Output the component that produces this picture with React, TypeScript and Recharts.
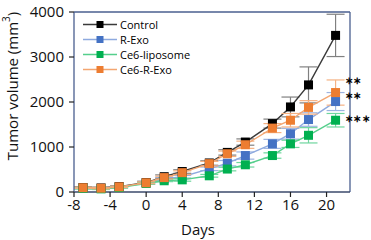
import React from "react";
import {
  ComposedChart,
  Line,
  XAxis,
  YAxis,
  ErrorBar,
  ReferenceLine,
  LabelList,
  Label,
} from "recharts";

const days = [-7, -5, -3, 0, 2, 4, 7, 9, 11, 14, 16, 18, 21];
const control = [100, 90, 120, 210, 340, 455, 645, 880, 1110, 1520, 1890, 2380, 3480];
const controlErr = [20, 20, 20, 30, 40, 40, 50, 60, 70, 100, 220, 400, 470];
const rExo = [90, 80, 110, 200, 290, 340, 515, 640, 810, 1070, 1295, 1610, 2010];
const rExoErr = [15, 15, 15, 20, 30, 30, 40, 60, 80, 100, 120, 150, 200];
const ce6Lipo = [80, 70, 100, 190, 250, 270, 360, 510, 605, 810, 1070, 1260, 1595];
const ce6LipoErr = [15, 15, 15, 20, 20, 30, 30, 40, 50, 60, 80, 170, 150];
const ce6RExo = [95, 85, 115, 205, 320, 430, 630, 850, 1050, 1420, 1595, 1880, 2210];
const ce6RExoErr = [15, 15, 15, 20, 30, 40, 50, 60, 80, 100, 150, 150, 280];

const xTicks = [-8, -4, 0, 4, 8, 12, 16, 20];
const yTicks = [0, 1000, 2000, 3000, 4000];
const X_MAX = 22.6;

const data = days.map((d, i) => ({
  day: d,
  control: control[i],
  controlErr: controlErr[i],
  rExo: rExo[i],
  rExoErr: rExoErr[i],
  ce6Lipo: ce6Lipo[i],
  ce6LipoErr: ce6LipoErr[i],
  ce6RExo: ce6RExo[i],
  ce6RExoErr: ce6RExoErr[i],
}));

const series = [
  { key: "control", err: "controlErr", name: "Control", fill: "#000000", line: "#3a3a3a", errColor: "#808080", stars: "", sdy: 0 },
  { key: "rExo", err: "rExoErr", name: "R-Exo", fill: "#4472C4", line: "#8eaadf", errColor: "#9db4e0", stars: "**", sdy: -7 },
  { key: "ce6Lipo", err: "ce6LipoErr", name: "Ce6-liposome", fill: "#00B050", line: "#55cf8c", errColor: "#6fd69e", stars: "***", sdy: -2 },
  { key: "ce6RExo", err: "ce6RExoErr", name: "Ce6-R-Exo", fill: "#ED7D31", line: "#f3a672", errColor: "#f5b284", stars: "**", sdy: -13 },
];

const drawOrder = ["rExo", "control", "ce6Lipo", "ce6RExo"];

const FONT = "'Open Sans', sans-serif";
const AXIS = "#4a5f8f";

const squareDot = (fill: string, size: number) => (props: any) => {
  const { cx, cy, index } = props;
  if (cx == null || cy == null) return <g key={`d-${index}`} />;
  return (
    <rect
      key={`d-${index}`}
      x={cx - size / 2}
      y={cy - size / 2}
      width={size}
      height={size}
      fill={fill}
    />
  );
};

const LegendBox = () => (
  <div
    style={{
      position: "absolute",
      left: 83,
      top: 17,
      fontFamily: FONT,
      fontSize: 11,
      color: "#000",
      pointerEvents: "none",
    }}
  >
    {series.map((s) => (
      <div key={s.key} style={{ display: "flex", alignItems: "center", height: 15 }}>
        <svg width={36} height={15} style={{ display: "block" }}>
          <line x1={0} y1={7.5} x2={34} y2={7.5} stroke={s.line} strokeWidth={1.3} />
          <rect x={13.5} y={4} width={7} height={7} fill={s.fill} />
        </svg>
        <span style={{ marginLeft: 1, lineHeight: "15px", whiteSpace: "nowrap" }}>{s.name}</span>
      </div>
    ))}
  </div>
);

const starContent = (stars: string, dy: number) => (props: any) => {
  const { x, y, index } = props;
  if (!stars || index !== days.length - 1) return null;
  return (
    <text
      x={x + 9}
      y={y + dy}
      dominantBaseline="central"
      fontFamily={FONT}
      fontSize={10}
      fontWeight={700}
      fill="#000"
      letterSpacing={0.5}
    >
      {stars.split("").map(() => "\u2217").join("")}
    </text>
  );
};

export default function App() {
  return (
    <div style={{ position: "absolute", left: 0, top: 0, width: 371, height: 240, background: "#fff" }}>
      <ComposedChart
        width={371}
        height={240}
        data={data}
        margin={{ top: 12, right: 21, bottom: 0, left: 0 }}
      >
        <XAxis
          dataKey="day"
          type="number"
          domain={[-8, X_MAX]}
          ticks={xTicks}
          allowDataOverflow
          height={48}
          axisLine={{ stroke: "#3b4a6b", strokeWidth: 1.3 }}
          tickLine={{ stroke: "#222", strokeWidth: 1.2 }}
          tickSize={5}
          tick={{ fill: "#111", fontSize: 15, fontFamily: FONT }}
        >
          <Label
            content={(p: any) => {
              const vb = p.viewBox;
              return (
                <text
                  x={vb.x + vb.width / 2 - 14}
                  y={229}
                  textAnchor="middle"
                  dominantBaseline="central"
                  fontFamily={FONT}
                  fontSize={15}
                  fill="#111"
                >
                  Days
                </text>
              );
            }}
          />
        </XAxis>
        <YAxis
          type="number"
          domain={[0, 4000]}
          ticks={yTicks}
          width={74}
          axisLine={{ stroke: AXIS, strokeWidth: 1.3 }}
          tickLine={{ stroke: "#222", strokeWidth: 1.2 }}
          tickSize={5}
          tickMargin={5}
          tick={{ fill: "#111", fontSize: 15, fontFamily: FONT }}
        >
          <Label
            content={() => (
              <text
                x={12}
                y={86}
                transform="rotate(-90, 12, 86)"
                textAnchor="middle"
                dominantBaseline="central"
                fontFamily={FONT}
                fontSize={15}
                fill="#111"
              >
                Tumor volume (mm
                <tspan dy={-6} fontSize={10}>3</tspan>
                <tspan dy={6}>)</tspan>
              </text>
            )}
          />
        </YAxis>
        <ReferenceLine y={4000} stroke={AXIS} strokeWidth={1.3} />
        <ReferenceLine x={X_MAX} stroke={AXIS} strokeWidth={1.3} />
        {drawOrder.map((k) => {
          const s = series.find((x) => x.key === k)!;
          return (
            <Line
              key={s.key}
              dataKey={s.key}
              name={s.name}
              stroke={s.line}
              strokeWidth={1.4}
              dot={squareDot(s.fill, 9)}
              activeDot={false}
              isAnimationActive={false}
              legendType="none"
            >
              <ErrorBar dataKey={s.err} width={9} stroke={s.errColor} strokeWidth={1.2} direction="y" />
              <LabelList dataKey={s.key} content={starContent(s.stars, s.sdy)} />
            </Line>
          );
        })}
      </ComposedChart>
      <LegendBox />
    </div>
  );
}
